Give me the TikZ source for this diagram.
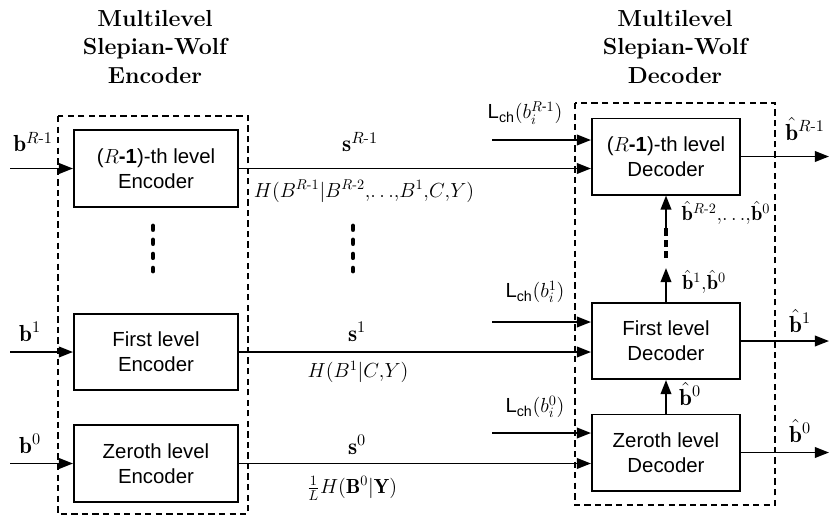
\RequirePackage{fix-cm}
\documentclass[tikz,border=0pt]{standalone}
\usepackage{amsmath}
\usepackage{fontspec}
\setsansfont{Liberation Sans}
\usetikzlibrary{arrows.meta, positioning, calc}

\begin{document}
\begin{tikzpicture}[x=0.025cm, y=-0.025cm,
        every node/.style={font=\fontsize{14.5}{17}\selectfont},
        encbox/.style={draw, line width=1.4pt, minimum width=4.1cm, minimum height=1.92cm,
            inner sep=0pt, align=center, font=\sffamily\fontsize{14.5}{17.5}\selectfont},
        decbox/.style={encbox, minimum width=3.7cm, minimum height=1.9cm},
        grpbox/.style={line width=1.1pt, dash pattern=on 4.5pt off 3pt},
        sig/.style={-{Triangle[length=10pt,width=7.5pt]}, line width=1.3pt},
        vdots/.style={line width=3.5pt, line cap=round, dash pattern=on 2.5pt off 7.5pt},
        bvec/.style={font=\fontsize{16.5}{19}\selectfont},
        title/.style={align=center, font=\bfseries\fontsize{16.5}{20.6}\selectfont}
    ]
        \useasboundingbox (0,0) rectangle (830,516);

        % titles
        \node[title] (enctitle) at (155,47) {Multilevel\\Slepian-Wolf\\Encoder};
        \node[title] (dectitle) at (675,47) {Multilevel\\Slepian-Wolf\\Decoder};

        % encoder side
        \draw[grpbox] (58,116) rectangle (248,514);
        \node[encbox] (encR) at (156,168.5) {($R$\textbf{-1})-th level\\Encoder};
        \node[encbox] (encA) at (156,352) {First level\\Encoder};
        \node[encbox] (encZ) at (156,463.5) {Zeroth level\\Encoder};
        \draw[vdots] (153,226) -- (153,271);

        \coordinate (inR) at (10,168.5);
        \coordinate (inA) at (10,352);
        \coordinate (inZ) at (10,463.5);
        \draw[sig] (inR) -- (encR.west);
        \draw[sig] (inA) -- (encA.west);
        \draw[sig] (inZ) -- (encZ.west);
        \node[bvec] (lbR) at (33,142) {$\mathbf{b}^{R\text{-}1}$};
        \node[bvec] (lbA) at (30,332) {$\mathbf{b}^{1}$};
        \node[bvec] (lbZ) at (30,444) {$\mathbf{b}^{0}$};

        % decoder side
        \draw[grpbox] (575,103) rectangle (775,505);
        \node[decbox] (decR) at (666,156.5) {($R$\textbf{-1})-th level\\Decoder};
        \node[decbox] (decA) at (666,341) {First level\\Decoder};
        \node[decbox] (decZ) at (666,452.5) {Zeroth level\\Decoder};

        % syndromes
        \draw[sig] (encR.east) -- (encR.east -| decR.west);
        \draw[sig] (encA.east) -- (encA.east -| decA.west);
        \draw[sig] (encZ.east) -- (encZ.east -| decZ.west);
        \node[bvec] (sR) at (360,142) {$\mathbf{s}^{R\text{-}1}$};
        \node (hR) at (364,191) {$H(B^{R\text{-}1}|B^{R\text{-}2}{,}{\ldots}{,}B^{1}{,}C{,}Y)$};
        \node[bvec] (sA) at (357,332) {$\mathbf{s}^{1}$};
        \node (hA) at (358,372) {$H(B^{1}|C{,}Y)$};
        \node[bvec] (sZ) at (357,445) {$\mathbf{s}^{0}$};
        \node (hZ) at (352,488) {$\frac{1}{L}H(\mathbf{B}^{0}|\mathbf{Y})$};
        \draw[vdots] (353,226) -- (353,271);

        % channel LLRs
        \coordinate (chR) at (492,140);
        \coordinate (chA) at (492,322);
        \coordinate (chZ) at (492,433);
        \draw[sig] (chR) -- (chR -| decR.west);
        \draw[sig] (chA) -- (chA -| decA.west);
        \draw[sig] (chZ) -- (chZ -| decZ.west);
        \node (lcR) at (525,113) {\sffamily L\textsubscript{ch}$(b_i^{R\text{-}1})$};
        \node (lcA) at (535,292) {\sffamily L\textsubscript{ch}$(b_i^{1})$};
        \node (lcZ) at (535,407) {\sffamily L\textsubscript{ch}$(b_i^{0})$};

        % outputs
        \coordinate (outR) at (829,156.5);
        \coordinate (outA) at (829,341);
        \coordinate (outZ) at (829,452.5);
        \draw[sig] (decR.east) -- (outR);
        \draw[sig] (decA.east) -- (outA);
        \draw[sig] (decZ.east) -- (outZ);
        \node[bvec] (obR) at (805,129) {$\hat{\mathbf{b}}^{R\text{-}1}$};
        \node[bvec] (obA) at (800,321) {$\hat{\mathbf{b}}^{1}$};
        \node[bvec] (obZ) at (800,431) {$\hat{\mathbf{b}}^{0}$};

        % decisions passed upwards
        \draw[sig] (decZ.north) -- (decA.south);
        \node[bvec] (fbZ) at (690,394) {$\hat{\mathbf{b}}^{0}$};
        \coordinate (fbA) at (666,268);
        \coordinate (fbB) at (666,258);
        \coordinate (fbC) at (666,228);
        \draw[sig] (decA.north) -- (fbA);
        \draw[line width=2.5pt, dash pattern=on 5pt off 3pt] (fbB) -- (fbC);
        \draw[sig] (fbC) -- (decR.south);
        \node (fbAl) at (704,282) {$\hat{\mathbf{b}}^{1}{,}\hat{\mathbf{b}}^{0}$};
        \node (fbRl) at (726,213) {$\hat{\mathbf{b}}^{R\text{-}2}{,}{\ldots}{,}\hat{\mathbf{b}}^{0}$};
    \end{tikzpicture}
\end{document}
